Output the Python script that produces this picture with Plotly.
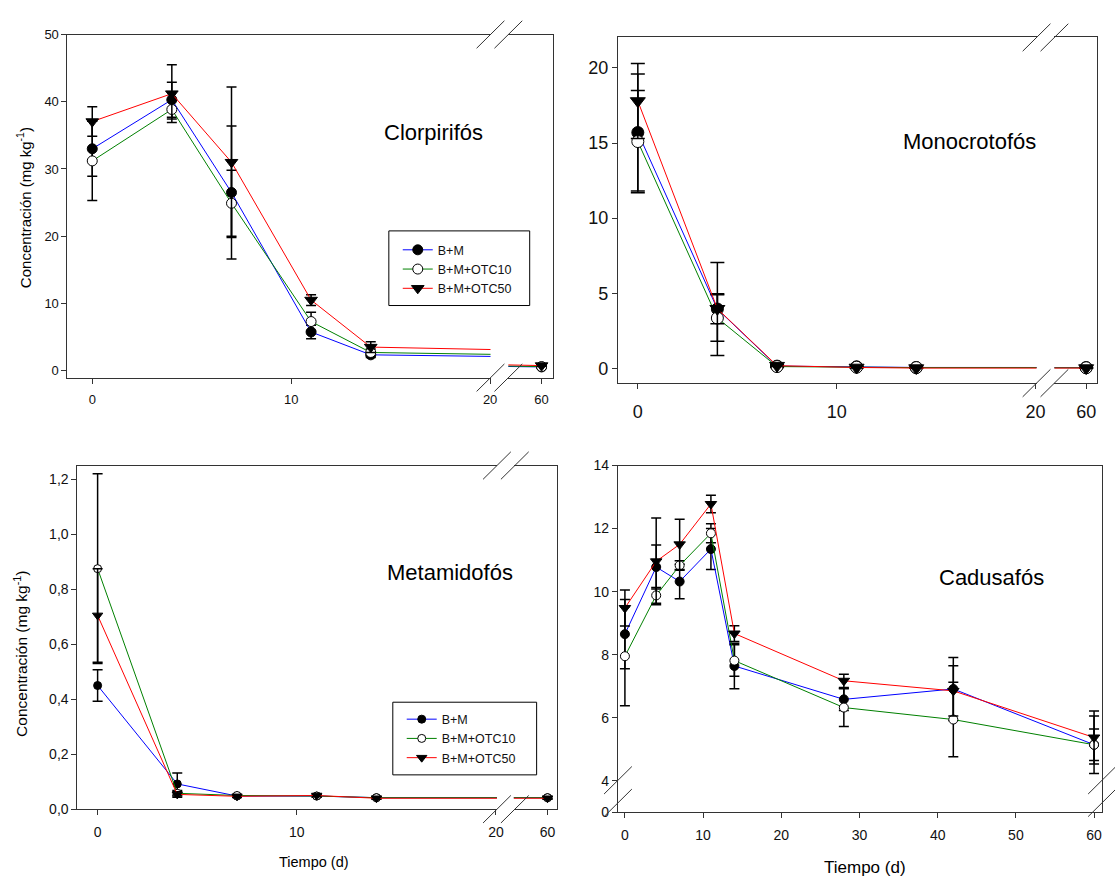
import plotly.graph_objects as go

W, H = 1115, 884
FONT = "Liberation Sans, Arial, Helvetica, sans-serif"

# ---------------- data ----------------
days = [0, 4, 7, 11, 14, 60]
days_cad = [0, 4, 7, 11, 14, 28, 42, 60]
series_names = ["B+M", "B+M+OTC10", "B+M+OTC50"]

clor_bm = [33.0, 40.3, 26.5, 5.75, 2.35, 0.55]
clor_bm_err = [4.1, 2.6, 9.9, 1.0, 0.4, 0.15]
clor_otc10 = [31.2, 38.85, 24.9, 7.3, 2.7, 0.6]
clor_otc10_err = [5.9, 1.4, 4.9, 1.4, 0.5, 0.1]
clor_otc50 = [37.05, 41.2, 31.0, 10.5, 3.5, 0.75]
clor_otc50_err = [2.2, 4.3, 11.2, 0.8, 0.8, 0.1]

mono_bm = [15.7, 3.95, 0.15, 0.1, 0.06, 0.05]
mono_bm_err = [3.9, 3.1, 0.1, 0.05, 0.03, 0.03]
mono_otc10 = [15.1, 3.35, 0.12, 0.08, 0.05, 0.04]
mono_otc10_err = [3.4, 1.55, 0.05, 0.03, 0.03, 0.02]
mono_otc50 = [17.8, 3.97, 0.18, 0.06, 0.02, 0.02]
mono_otc50_err = [2.5, 1.0, 0.05, 0.03, 0.02, 0.02]

meta_bm = [0.45, 0.092, 0.048, 0.048, 0.042, 0.042]
meta_bm_err = [0.057, 0.04, 0.004, 0.004, 0.004, 0.004]
meta_otc10 = [0.875, 0.058, 0.05, 0.048, 0.042, 0.042]
meta_otc10_err = [0.345, 0.01, 0.004, 0.004, 0.004, 0.004]
meta_otc50 = [0.705, 0.054, 0.047, 0.05, 0.04, 0.04]
meta_otc50_err = [0.17, 0.01, 0.004, 0.004, 0.004, 0.004]

cadu_bm = [8.65, 10.78, 10.32, 11.35, 7.64, 6.58, 6.91, 5.14]
cadu_bm_err = [1.1, 0.7, 0.55, 0.65, 0.72, 0.35, 1.0, 0.91]
cadu_otc10 = [7.95, 9.88, 10.83, 11.85, 7.81, 6.32, 5.94, 5.14]
cadu_otc10_err = [1.57, 0.25, 0.15, 0.3, 0.5, 0.6, 1.18, 0.5]
cadu_otc50 = [9.48, 10.96, 11.5, 12.78, 8.67, 7.17, 6.85, 5.37]
cadu_otc50_err = [0.57, 1.38, 0.8, 0.28, 0.25, 0.21, 0.8, 0.84]

# ---------------- styling ----------------
colors = ["#0000ff", "#008000", "#ff0000"]
symbols = ["circle", "circle", "triangle-down"]
fills = ["black", "white", "black"]
AX = "#333333"
TXT = "#111111"


def fx(px):
    return px / W


def fy(py):
    return 1 - py / H


fig = go.Figure()


def add_series(x, ys, errs, xaxis, yaxis, msize, capw, legend=None):
    for i in range(3):
        fig.add_trace(go.Scatter(
            x=x, y=ys[i], name=series_names[i], mode="lines+markers",
            xaxis=xaxis, yaxis=yaxis,
            line=dict(color=colors[i], width=1),
            marker=dict(symbol=symbols[i], size=msize if i < 2 else msize + 1,
                        color=fills[i], line=dict(color="black", width=1)),
            error_y=dict(type="data", array=errs[i], color="black",
                         thickness=1.5, width=capw),
            showlegend=legend is not None,
            legend=legend if legend else "legend",
            cliponaxis=True,
        ))


# panel 1 (Clorpirifos): seg1 x/y, seg2 x2/y2
add_series(days, [clor_bm, clor_otc10, clor_otc50],
           [clor_bm_err, clor_otc10_err, clor_otc50_err], "x", "y", 10, 5, legend="legend")
add_series(days, [clor_bm, clor_otc10, clor_otc50],
           [clor_bm_err, clor_otc10_err, clor_otc50_err], "x2", "y2", 10, 5)
# panel 2 (Monocrotofos)
add_series(days, [mono_bm, mono_otc10, mono_otc50],
           [mono_bm_err, mono_otc10_err, mono_otc50_err], "x3", "y3", 12, 7)
add_series(days, [mono_bm, mono_otc10, mono_otc50],
           [mono_bm_err, mono_otc10_err, mono_otc50_err], "x4", "y4", 12, 7)
# panel 3 (Metamidofos)
add_series(days, [meta_bm, meta_otc10, meta_otc50],
           [meta_bm_err, meta_otc10_err, meta_otc50_err], "x5", "y5", 8, 5, legend="legend2")
add_series(days, [meta_bm, meta_otc10, meta_otc50],
           [meta_bm_err, meta_otc10_err, meta_otc50_err], "x6", "y6", 8, 5)
# panel 4 (Cadusafos)
add_series(days_cad, [cadu_bm, cadu_otc10, cadu_otc50],
           [cadu_bm_err, cadu_otc10_err, cadu_otc50_err], "x7", "y7", 9, 5)
fig.add_trace(go.Scatter(x=[], y=[], xaxis="x7", yaxis="y8", showlegend=False))


def xaxis(d0, d1, rng, tickvals, anchor, fsize, standoff):
    return dict(domain=[fx(d0), fx(d1)], range=rng, tickvals=tickvals, anchor=anchor,
                showline=True, linecolor=AX, linewidth=1, mirror=True,
                ticks="outside", ticklen=5, tickcolor=AX, tickwidth=1,
                ticklabelstandoff=standoff,
                tickfont=dict(size=fsize, color=TXT, family=FONT),
                showgrid=False, zeroline=False, fixedrange=True)


def yaxis_left(top, bottom, rng, tickvals, ticktext, anchor, fsize, mirror=False):
    return dict(domain=[fy(bottom), fy(top)], range=rng, tickvals=tickvals,
                ticktext=ticktext, anchor=anchor,
                showline=True, linecolor=AX, linewidth=1, mirror=mirror,
                ticks="outside", ticklen=5, tickcolor=AX, tickwidth=1,
                tickfont=dict(size=fsize, color=TXT, family=FONT),
                showgrid=False, zeroline=False, fixedrange=True)


def yaxis_right(top, bottom, rng, anchor):
    return dict(domain=[fy(bottom), fy(top)], range=rng, anchor=anchor, side="right",
                showline=True, linecolor=AX, linewidth=1, ticks="",
                showticklabels=False, showgrid=False, zeroline=False, fixedrange=True)


y1_ticks = [0, 10, 20, 30, 40, 50]
y2_ticks = [0, 5, 10, 15, 20]
y3_ticks = [0.0, 0.2, 0.4, 0.6, 0.8, 1.0, 1.2]
y3_text = ["0,0", "0,2", "0,4", "0,6", "0,8", "1,0", "1,2"]
y4_ticks = [4, 6, 8, 10, 12, 14]
x_ticks_seg1 = [0, 10, 20]
x_ticks_seg2 = [60]
x_ticks_cad = [0, 10, 20, 30, 40, 50, 60]

fig.update_layout(
    width=W, height=H, margin=dict(l=0, r=0, t=0, b=0),
    paper_bgcolor="white", plot_bgcolor="white",
    font=dict(family=FONT, color=TXT),
    # panel 1
    xaxis=xaxis(68, 494.5, [-1.247, 20.02], x_ticks_seg1, "y", 13, 5),
    xaxis2=xaxis(512.5, 557, [58.33, 60.55], x_ticks_seg2, "y2", 13, 5),
    yaxis=yaxis_left(27, 376.5, [-1.05, 50], y1_ticks, None, "x", 13),
    yaxis2=yaxis_right(27, 376.5, [-1.05, 50], "x2"),
    # panel 2
    xaxis3=xaxis(623, 1045, [-0.998, 20.05], x_ticks_seg1, "y3", 18, 7),
    xaxis4=xaxis(1063, 1106, [58.4, 60.55], x_ticks_seg2, "y4", 18, 7),
    yaxis3=yaxis_left(30, 382, [-0.98, 22.03], y2_ticks, None, "x3", 18),
    yaxis4=yaxis_right(30, 382, [-0.98, 22.03], "x4"),
    # panel 3
    xaxis5=xaxis(78, 501, [-1.016, 20.05], x_ticks_seg1, "y5", 14, 5),
    xaxis6=xaxis(518, 562, [58.31, 60.5], x_ticks_seg2, "y6", 14, 5),
    yaxis5=yaxis_left(466, 816, [0, 1.25], y3_ticks, y3_text, "x5", 14),
    yaxis6=yaxis_right(466, 816, [0, 1.25], "x6"),
    # panel 4
    xaxis7=xaxis(623, 1111, [-0.888, 61.02], x_ticks_cad, "y7", 14, 5),
    yaxis7=yaxis_left(466, 819, [3.0, 14.0], y4_ticks, None, "x7", 14, mirror=True),
    yaxis8=dict(overlaying="y7", anchor="x7", side="left", range=[-0.001, 11],
                tickvals=[0], ticks="outside", ticklen=5, tickcolor=AX,
                tickfont=dict(size=14, color=TXT, family=FONT),
                showline=False, showgrid=False, zeroline=False, fixedrange=True),
    legend=dict(x=fx(401), y=fy(266), xanchor="left", yanchor="middle",
                bgcolor="rgba(0,0,0,0)", borderwidth=0, itemwidth=30,
                font=dict(size=12.5, color=TXT, family=FONT)),
    legend2=dict(x=fx(405), y=fy(744), xanchor="left", yanchor="middle",
                 bgcolor="rgba(0,0,0,0)", borderwidth=0, itemwidth=30,
                 font=dict(size=12.5, color=TXT, family=FONT)),
)

# ---------------- decorations: axis-break slashes and legend boxes ----------------
shapes = []


def slash(cx, cy, half=14):
    shapes.append(dict(type="line", xref="paper", yref="paper",
                       x0=fx(cx - half), y0=fy(cy + half), x1=fx(cx + half), y1=fy(cy - half),
                       line=dict(color=AX, width=1)))


for cx in (494.5, 512.5):
    slash(cx, 27)
    slash(cx, 376.5)
for cx in (1045, 1063):
    slash(cx, 30)
    slash(cx, 382)
for cx in (501, 519):
    slash(cx, 466)
    slash(cx, 816)
for cx in (623, 1111):
    slash(cx, 786.5)
    slash(cx, 809.5)

for (x0, y0, x1, y1) in [(392, 227, 534, 303), (396, 707, 541, 781)]:
    shapes.append(dict(type="rect", xref="paper", yref="paper",
                       x0=fx(x0), y0=fy(y1), x1=fx(x1), y1=fy(y0),
                       line=dict(color="black", width=1), fillcolor="rgba(0,0,0,0)"))
fig.update_layout(shapes=shapes)

# ---------------- text ----------------
ann = []


def text(t, x, y, size, angle=0):
    ann.append(dict(text=t, x=fx(x), y=fy(y), xref="paper", yref="paper",
                    xanchor="center", yanchor="middle", showarrow=False, textangle=angle,
                    font=dict(size=size, color="black", family=FONT)))


text("Clorpirifós", 437, 127, 22)
text("Monocrotofós", 977, 136, 22)
text("Metamidofós", 454, 575, 22)
text("Cadusafós", 1000, 580, 22)
text("Concentración (mg kg<sup>-1</sup>)", 24, 203, 15, -90)
text("Concentración (mg kg<sup>-1</sup>)", 21, 658, 15.5, -90)
text("Tiempo (d)", 317, 870, 14.5)
text("Tiempo (d)", 872, 875, 17)
fig.update_layout(annotations=ann)

fig.write_html("out.html")
